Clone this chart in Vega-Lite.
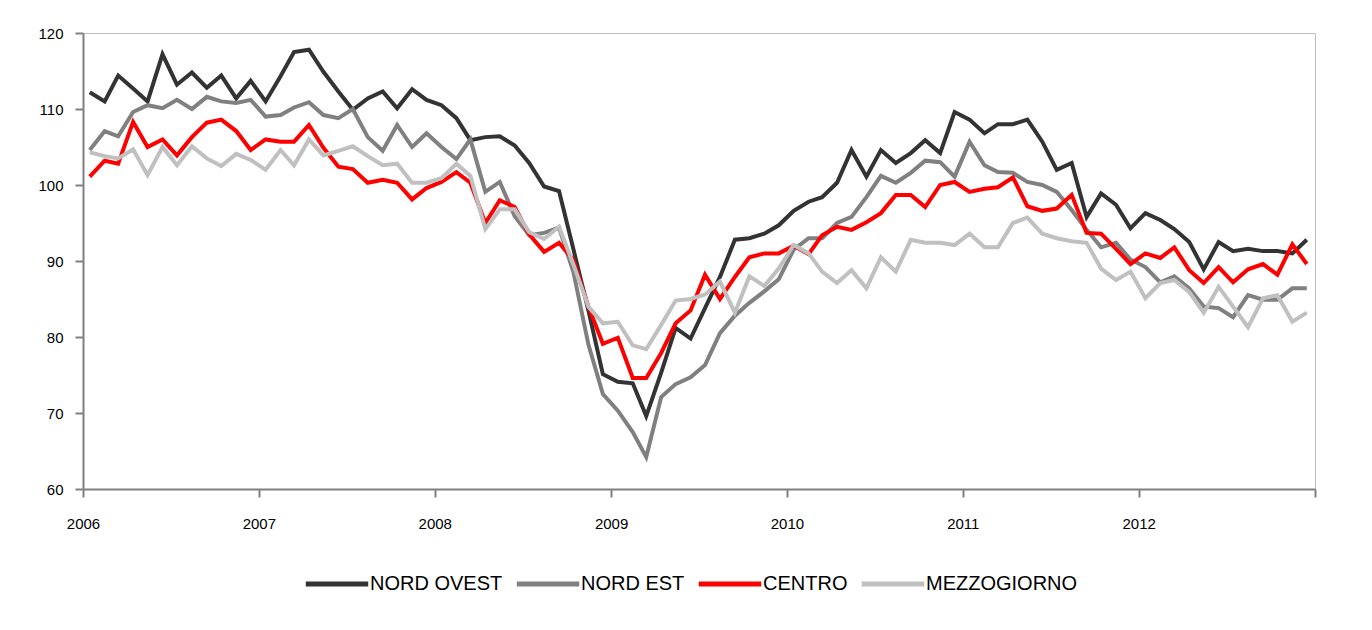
{
  "$schema": "https://vega.github.io/schema/vega-lite/v6.json",
  "width": 1232,
  "height": 456,
  "autosize": "none",
  "padding": {"left": 83, "top": 33, "right": 57, "bottom": 141},
  "background": "white",
  "config": {"view": {"stroke": "#bfbfbf", "strokeWidth": 1}, "font": "Liberation Sans"},
  "data": {"values": [
    {"d":"2006-01-15","NORD OVEST":112.2,"NORD EST":104.6,"CENTRO":101.1,"MEZZOGIORNO":104.3},
    {"d":"2006-02-15","NORD OVEST":111.0,"NORD EST":107.1,"CENTRO":103.2,"MEZZOGIORNO":103.8},
    {"d":"2006-03-15","NORD OVEST":114.4,"NORD EST":106.4,"CENTRO":102.8,"MEZZOGIORNO":103.5},
    {"d":"2006-04-15","NORD OVEST":112.7,"NORD EST":109.6,"CENTRO":108.3,"MEZZOGIORNO":104.7},
    {"d":"2006-05-15","NORD OVEST":111.0,"NORD EST":110.5,"CENTRO":105.0,"MEZZOGIORNO":101.3},
    {"d":"2006-06-15","NORD OVEST":117.2,"NORD EST":110.1,"CENTRO":106.0,"MEZZOGIORNO":105.0},
    {"d":"2006-07-15","NORD OVEST":113.2,"NORD EST":111.2,"CENTRO":103.9,"MEZZOGIORNO":102.6},
    {"d":"2006-08-15","NORD OVEST":114.8,"NORD EST":110.0,"CENTRO":106.3,"MEZZOGIORNO":105.1},
    {"d":"2006-09-15","NORD OVEST":112.8,"NORD EST":111.6,"CENTRO":108.2,"MEZZOGIORNO":103.5},
    {"d":"2006-10-15","NORD OVEST":114.4,"NORD EST":111.0,"CENTRO":108.6,"MEZZOGIORNO":102.5},
    {"d":"2006-11-15","NORD OVEST":111.4,"NORD EST":110.8,"CENTRO":107.1,"MEZZOGIORNO":104.1},
    {"d":"2006-12-15","NORD OVEST":113.7,"NORD EST":111.2,"CENTRO":104.6,"MEZZOGIORNO":103.3},
    {"d":"2007-01-15","NORD OVEST":111.0,"NORD EST":109.0,"CENTRO":106.0,"MEZZOGIORNO":102.0},
    {"d":"2007-02-15","NORD OVEST":114.3,"NORD EST":109.2,"CENTRO":105.7,"MEZZOGIORNO":104.6},
    {"d":"2007-03-15","NORD OVEST":117.5,"NORD EST":110.2,"CENTRO":105.7,"MEZZOGIORNO":102.6},
    {"d":"2007-04-15","NORD OVEST":117.8,"NORD EST":110.9,"CENTRO":107.9,"MEZZOGIORNO":106.0},
    {"d":"2007-05-15","NORD OVEST":114.9,"NORD EST":109.2,"CENTRO":104.9,"MEZZOGIORNO":103.9},
    {"d":"2007-06-15","NORD OVEST":112.3,"NORD EST":108.8,"CENTRO":102.4,"MEZZOGIORNO":104.5},
    {"d":"2007-07-15","NORD OVEST":109.9,"NORD EST":110.0,"CENTRO":102.1,"MEZZOGIORNO":105.1},
    {"d":"2007-08-15","NORD OVEST":111.4,"NORD EST":106.3,"CENTRO":100.3,"MEZZOGIORNO":103.8},
    {"d":"2007-09-15","NORD OVEST":112.3,"NORD EST":104.5,"CENTRO":100.7,"MEZZOGIORNO":102.6},
    {"d":"2007-10-15","NORD OVEST":110.1,"NORD EST":107.9,"CENTRO":100.3,"MEZZOGIORNO":102.8},
    {"d":"2007-11-15","NORD OVEST":112.6,"NORD EST":105.0,"CENTRO":98.1,"MEZZOGIORNO":100.3},
    {"d":"2007-12-15","NORD OVEST":111.2,"NORD EST":106.8,"CENTRO":99.6,"MEZZOGIORNO":100.3},
    {"d":"2008-01-15","NORD OVEST":110.5,"NORD EST":105.0,"CENTRO":100.4,"MEZZOGIORNO":100.9},
    {"d":"2008-02-15","NORD OVEST":108.8,"NORD EST":103.4,"CENTRO":101.7,"MEZZOGIORNO":102.8},
    {"d":"2008-03-15","NORD OVEST":105.9,"NORD EST":106.0,"CENTRO":100.3,"MEZZOGIORNO":101.2},
    {"d":"2008-04-15","NORD OVEST":106.3,"NORD EST":99.1,"CENTRO":95.0,"MEZZOGIORNO":94.2},
    {"d":"2008-05-15","NORD OVEST":106.4,"NORD EST":100.4,"CENTRO":98.0,"MEZZOGIORNO":96.8},
    {"d":"2008-06-15","NORD OVEST":105.2,"NORD EST":95.9,"CENTRO":97.1,"MEZZOGIORNO":96.8},
    {"d":"2008-07-15","NORD OVEST":102.9,"NORD EST":93.4,"CENTRO":93.5,"MEZZOGIORNO":93.8},
    {"d":"2008-08-15","NORD OVEST":99.8,"NORD EST":93.7,"CENTRO":91.2,"MEZZOGIORNO":92.9},
    {"d":"2008-09-15","NORD OVEST":99.2,"NORD EST":94.4,"CENTRO":92.4,"MEZZOGIORNO":94.5},
    {"d":"2008-10-15","NORD OVEST":91.5,"NORD EST":88.5,"CENTRO":90.1,"MEZZOGIORNO":89.5},
    {"d":"2008-11-15","NORD OVEST":83.5,"NORD EST":79.0,"CENTRO":84.0,"MEZZOGIORNO":84.0},
    {"d":"2008-12-15","NORD OVEST":75.1,"NORD EST":72.5,"CENTRO":79.1,"MEZZOGIORNO":81.8},
    {"d":"2009-01-15","NORD OVEST":74.1,"NORD EST":70.3,"CENTRO":79.9,"MEZZOGIORNO":82.0},
    {"d":"2009-02-15","NORD OVEST":73.9,"NORD EST":67.5,"CENTRO":74.6,"MEZZOGIORNO":78.9},
    {"d":"2009-03-15","NORD OVEST":69.6,"NORD EST":64.2,"CENTRO":74.6,"MEZZOGIORNO":78.4},
    {"d":"2009-04-15","NORD OVEST":75.3,"NORD EST":72.1,"CENTRO":77.9,"MEZZOGIORNO":81.6},
    {"d":"2009-05-15","NORD OVEST":81.2,"NORD EST":73.8,"CENTRO":81.8,"MEZZOGIORNO":84.8},
    {"d":"2009-06-15","NORD OVEST":79.8,"NORD EST":74.7,"CENTRO":83.5,"MEZZOGIORNO":85.0},
    {"d":"2009-07-15","NORD OVEST":83.8,"NORD EST":76.3,"CENTRO":88.2,"MEZZOGIORNO":85.6},
    {"d":"2009-08-15","NORD OVEST":87.9,"NORD EST":80.5,"CENTRO":85.0,"MEZZOGIORNO":87.3},
    {"d":"2009-09-15","NORD OVEST":92.8,"NORD EST":82.8,"CENTRO":87.9,"MEZZOGIORNO":83.2},
    {"d":"2009-10-15","NORD OVEST":93.0,"NORD EST":84.5,"CENTRO":90.5,"MEZZOGIORNO":88.0},
    {"d":"2009-11-15","NORD OVEST":93.6,"NORD EST":86.0,"CENTRO":91.0,"MEZZOGIORNO":86.7},
    {"d":"2009-12-15","NORD OVEST":94.7,"NORD EST":87.6,"CENTRO":91.0,"MEZZOGIORNO":89.0},
    {"d":"2010-01-15","NORD OVEST":96.6,"NORD EST":91.5,"CENTRO":92.0,"MEZZOGIORNO":92.1},
    {"d":"2010-02-15","NORD OVEST":97.8,"NORD EST":93.0,"CENTRO":90.9,"MEZZOGIORNO":91.0},
    {"d":"2010-03-15","NORD OVEST":98.4,"NORD EST":93.0,"CENTRO":93.4,"MEZZOGIORNO":88.6},
    {"d":"2010-04-15","NORD OVEST":100.3,"NORD EST":95.0,"CENTRO":94.5,"MEZZOGIORNO":87.1},
    {"d":"2010-05-15","NORD OVEST":104.6,"NORD EST":95.8,"CENTRO":94.1,"MEZZOGIORNO":88.8},
    {"d":"2010-06-15","NORD OVEST":101.1,"NORD EST":98.4,"CENTRO":95.1,"MEZZOGIORNO":86.4},
    {"d":"2010-07-15","NORD OVEST":104.6,"NORD EST":101.2,"CENTRO":96.3,"MEZZOGIORNO":90.5},
    {"d":"2010-08-15","NORD OVEST":102.9,"NORD EST":100.3,"CENTRO":98.7,"MEZZOGIORNO":88.6},
    {"d":"2010-09-15","NORD OVEST":104.2,"NORD EST":101.6,"CENTRO":98.7,"MEZZOGIORNO":92.8},
    {"d":"2010-10-15","NORD OVEST":105.9,"NORD EST":103.2,"CENTRO":97.1,"MEZZOGIORNO":92.4},
    {"d":"2010-11-15","NORD OVEST":104.2,"NORD EST":103.0,"CENTRO":100.0,"MEZZOGIORNO":92.4},
    {"d":"2010-12-15","NORD OVEST":109.6,"NORD EST":101.1,"CENTRO":100.4,"MEZZOGIORNO":92.1},
    {"d":"2011-01-15","NORD OVEST":108.6,"NORD EST":105.7,"CENTRO":99.1,"MEZZOGIORNO":93.6},
    {"d":"2011-02-15","NORD OVEST":106.8,"NORD EST":102.6,"CENTRO":99.5,"MEZZOGIORNO":91.8},
    {"d":"2011-03-15","NORD OVEST":108.0,"NORD EST":101.7,"CENTRO":99.7,"MEZZOGIORNO":91.8},
    {"d":"2011-04-15","NORD OVEST":108.0,"NORD EST":101.6,"CENTRO":101.0,"MEZZOGIORNO":95.0},
    {"d":"2011-05-15","NORD OVEST":108.6,"NORD EST":100.4,"CENTRO":97.2,"MEZZOGIORNO":95.7},
    {"d":"2011-06-15","NORD OVEST":105.7,"NORD EST":100.0,"CENTRO":96.6,"MEZZOGIORNO":93.6},
    {"d":"2011-07-15","NORD OVEST":102.0,"NORD EST":99.1,"CENTRO":96.9,"MEZZOGIORNO":93.0},
    {"d":"2011-08-15","NORD OVEST":102.9,"NORD EST":96.7,"CENTRO":98.7,"MEZZOGIORNO":92.6},
    {"d":"2011-09-15","NORD OVEST":95.8,"NORD EST":94.1,"CENTRO":93.7,"MEZZOGIORNO":92.4},
    {"d":"2011-10-15","NORD OVEST":98.9,"NORD EST":91.8,"CENTRO":93.6,"MEZZOGIORNO":89.0},
    {"d":"2011-11-15","NORD OVEST":97.4,"NORD EST":92.4,"CENTRO":91.6,"MEZZOGIORNO":87.5},
    {"d":"2011-12-15","NORD OVEST":94.3,"NORD EST":90.2,"CENTRO":89.6,"MEZZOGIORNO":88.6},
    {"d":"2012-01-15","NORD OVEST":96.3,"NORD EST":89.2,"CENTRO":91.0,"MEZZOGIORNO":85.1},
    {"d":"2012-02-15","NORD OVEST":95.4,"NORD EST":87.2,"CENTRO":90.4,"MEZZOGIORNO":87.1},
    {"d":"2012-03-15","NORD OVEST":94.2,"NORD EST":88.0,"CENTRO":91.8,"MEZZOGIORNO":87.5},
    {"d":"2012-04-15","NORD OVEST":92.5,"NORD EST":86.4,"CENTRO":88.8,"MEZZOGIORNO":85.9},
    {"d":"2012-05-15","NORD OVEST":88.9,"NORD EST":84.0,"CENTRO":87.1,"MEZZOGIORNO":83.2},
    {"d":"2012-06-15","NORD OVEST":92.5,"NORD EST":83.8,"CENTRO":89.2,"MEZZOGIORNO":86.6},
    {"d":"2012-07-15","NORD OVEST":91.3,"NORD EST":82.6,"CENTRO":87.2,"MEZZOGIORNO":84.0},
    {"d":"2012-08-15","NORD OVEST":91.6,"NORD EST":85.5,"CENTRO":88.9,"MEZZOGIORNO":81.3},
    {"d":"2012-09-15","NORD OVEST":91.3,"NORD EST":84.9,"CENTRO":89.6,"MEZZOGIORNO":85.1},
    {"d":"2012-10-15","NORD OVEST":91.3,"NORD EST":84.9,"CENTRO":88.2,"MEZZOGIORNO":85.5},
    {"d":"2012-11-15","NORD OVEST":91.0,"NORD EST":86.4,"CENTRO":92.2,"MEZZOGIORNO":82.0},
    {"d":"2012-12-15","NORD OVEST":92.8,"NORD EST":86.4,"CENTRO":89.6,"MEZZOGIORNO":83.2}
  ]},
  "transform": [
    {"fold": ["NORD OVEST", "NORD EST", "CENTRO", "MEZZOGIORNO"], "as": ["serie", "valore"]}
  ],
  "mark": {"type": "line", "strokeWidth": 4},
  "encoding": {
    "x": {
      "field": "d",
      "type": "temporal",
      "scale": {
        "type": "utc",
        "domain": [
          {"year": 2006, "month": 1, "date": 1, "utc": true},
          {"year": 2013, "month": 1, "date": 1, "utc": true}
        ],
        "nice": false
      },
      "axis": {
        "title": null,
        "grid": false,
        "values": [
          {"year": 2006, "month": 1, "date": 1, "utc": true},
          {"year": 2007, "month": 1, "date": 1, "utc": true},
          {"year": 2008, "month": 1, "date": 1, "utc": true},
          {"year": 2009, "month": 1, "date": 1, "utc": true},
          {"year": 2010, "month": 1, "date": 1, "utc": true},
          {"year": 2011, "month": 1, "date": 1, "utc": true},
          {"year": 2012, "month": 1, "date": 1, "utc": true},
          {"year": 2013, "month": 1, "date": 1, "utc": true}
        ],
        "format": "%Y",
        "labelExpr": "datum.label == '2013' ? '' : datum.label",
        "domainColor": "#808080",
        "domainWidth": 2,
        "tickColor": "#808080",
        "tickWidth": 2,
        "tickSize": 8,
        "labelFontSize": 15,
        "labelColor": "#000000",
        "labelPadding": 19,
        "labelFlush": false,
        "labelOverlap": false
      }
    },
    "y": {
      "field": "valore",
      "type": "quantitative",
      "scale": {"domain": [60, 120], "zero": false, "nice": false},
      "axis": {
        "title": null,
        "grid": false,
        "values": [60, 70, 80, 90, 100, 110, 120],
        "domainColor": "#808080",
        "domainWidth": 2,
        "tickColor": "#808080",
        "tickWidth": 2,
        "tickSize": 8,
        "labelFontSize": 15,
        "labelColor": "#000000",
        "labelPadding": 12
      }
    },
    "color": {
      "field": "serie",
      "type": "nominal",
      "scale": {
        "domain": ["NORD OVEST", "NORD EST", "CENTRO", "MEZZOGIORNO"],
        "range": ["#333333", "#808080", "#ff0000", "#c0c0c0"]
      },
      "legend": {
        "title": null,
        "orient": "none",
        "direction": "horizontal",
        "legendX": 220,
        "legendY": 517,
        "padding": 0,
        "symbolType": "stroke",
        "symbolSize": 3900,
        "symbolStrokeWidth": 5,
        "labelFontSize": 20,
        "labelColor": "#000000",
        "labelOffset": -1,
        "columnPadding": 3
      }
    }
  }
}
